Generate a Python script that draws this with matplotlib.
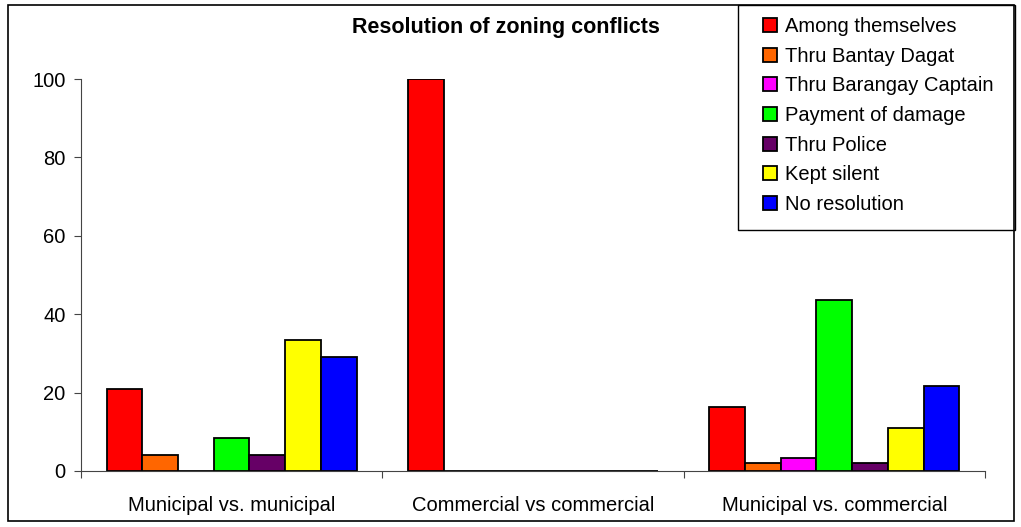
import numpy as np
import matplotlib
matplotlib.use('Agg')
import matplotlib.pyplot as plt
from matplotlib.patches import Rectangle

plt.rcParams['font.family'] = ['Liberation Sans', 'DejaVu Sans']

# Data (percent)
groups = ['Municipal vs. municipal', 'Commercial vs commercial', 'Municipal vs. commercial']
series = ['Among themselves', 'Thru Bantay Dagat', 'Thru Barangay Captain',
          'Payment of damage', 'Thru Police', 'Kept silent', 'No resolution']
colors = ['#ff0000', '#ff6600', '#ff00ff', '#00ff00', '#660066', '#ffff00', '#0000ff']
among_themselves = [20.8, 100, 16.2]
bantay_dagat = [4.2, 0, 2.0]
barangay_captain = [0, 0, 3.4]
payment_of_damage = [8.3, 0, 43.6]
thru_police = [4.2, 0, 2.0]
kept_silent = [33.3, 0, 11.0]
no_resolution = [29.2, 0, 21.8]
values = [among_themselves, bantay_dagat, barangay_captain, payment_of_damage,
          thru_police, kept_silent, no_resolution]

fig = plt.figure(figsize=(10.21, 5.27), dpi=100)
ax = fig.add_axes([0.0793, 0.1063, 0.8854, 0.7437])

x = np.arange(len(groups))
bw = 0.1185
for i, (name, vals, c) in enumerate(zip(series, values, colors)):
    offs = (i - 3) * bw
    ax.bar(x + offs, vals, width=bw, color=c, edgecolor='black', linewidth=1.3, label=name)

axis_col = '#444444'
ax.set_xlim(-0.5, 2.5)
ax.set_ylim(0, 100)
ax.set_yticks(range(0, 101, 20))
ax.tick_params(axis='y', labelsize=14.5, length=5, width=0.8, color=axis_col, pad=6)
ax.set_xticks([-0.5, 0.5, 1.5, 2.5])
ax.set_xticklabels([])
ax.set_xticks(x, minor=True)
ax.set_xticklabels(groups, minor=True, fontsize=14.5)
ax.tick_params(axis='x', which='major', length=5, width=0.8, color=axis_col)
ax.tick_params(axis='x', which='minor', length=0, pad=18)
for s in ['top', 'right']:
    ax.spines[s].set_visible(False)
for s in ['left', 'bottom']:
    ax.spines[s].set_color(axis_col)
    ax.spines[s].set_linewidth(0.8)

fig.text(0.496, 0.947, 'Resolution of zoning conflicts', ha='center', va='center',
         fontsize=15.5, fontweight='bold')

# legend without its own frame; the box is drawn separately to match the wider reference box
leg = fig.legend(loc='upper left', bbox_to_anchor=(0.7356, 0.9905), bbox_transform=fig.transFigure,
                 fontsize=14.5, frameon=False,
                 handlelength=0.7, handleheight=0.7, handletextpad=0.4,
                 labelspacing=0.53, borderpad=0.6, borderaxespad=0)
fig.patches.append(Rectangle((0.7228, 0.5636), 0.2713, 0.4269, transform=fig.transFigure,
                             fill=False, edgecolor='black', linewidth=1.0))

fig.patches.append(Rectangle((0.008, 0.012), 0.985, 0.978, transform=fig.transFigure,
                             fill=False, edgecolor='black', linewidth=1.2))

fig.savefig('out.png', dpi=100)
